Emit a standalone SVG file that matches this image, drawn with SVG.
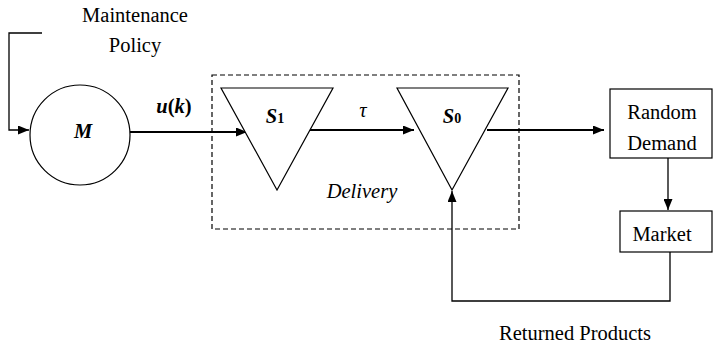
<svg xmlns="http://www.w3.org/2000/svg" width="713" height="349" viewBox="0 0 713 349">
<defs>
<marker id="ah" markerWidth="11" markerHeight="9" refX="11" refY="4.5" orient="auto" markerUnits="userSpaceOnUse">
<path d="M0,0 L11,4.5 L0,9 Z" fill="#000"/>
</marker>
</defs>
<style>
text{font-family:"Liberation Serif","Times New Roman",serif;font-size:20.5px;fill:#000}
.bi{font-weight:bold;font-style:italic}
.it{font-style:italic}
.shape{fill:#fff;stroke:#000;stroke-width:1.2}
.conn{fill:none;stroke:#000;stroke-width:2}
.thin{fill:none;stroke:#000;stroke-width:1.3}
</style>
<rect width="713" height="349" fill="#fff"/>
<g id="delivery">
<rect x="212" y="75" width="307" height="154" fill="none" stroke="#000" stroke-width="1.2" stroke-dasharray="5,3"/>
<text class="it" x="362" y="198" text-anchor="middle">Delivery</text>
</g>
<g id="connectors">
<polyline class="thin" points="42,33 9,33 9,130 29,130" marker-end="url(#ah)"/>
<line class="conn" x1="130" y1="132" x2="247" y2="132" marker-end="url(#ah)"/>
<line class="conn" x1="310" y1="130" x2="414" y2="130" marker-end="url(#ah)"/>
<line class="conn" x1="487" y1="130" x2="604" y2="130" marker-end="url(#ah)"/>
<line class="thin" x1="668" y1="158" x2="668" y2="210" marker-end="url(#ah)"/>
<polyline class="thin" points="670,252 670,301 452,301 452,191" marker-end="url(#ah)"/>
</g>
<g id="policy">
<text x="135" y="22" text-anchor="middle">Maintenance</text>
<text x="135" y="52" text-anchor="middle">Policy</text>
</g>
<g id="M">
<circle class="shape" cx="80" cy="135" r="50"/>
<text class="bi" x="83" y="138" text-anchor="middle">M</text>
</g>
<g id="uk">
<text class="bi" x="174" y="113" text-anchor="middle">u<tspan font-style="normal">(</tspan>k<tspan font-style="normal">)</tspan></text>
</g>
<g id="S1">
<polygon class="shape" points="221,88 333,88 277,190"/>
<text class="bi" x="275" y="123" text-anchor="middle">S<tspan font-style="normal" style="font-size:14px">1</tspan></text>
</g>
<g id="tau">
<text class="it" x="363" y="117" text-anchor="middle">τ</text>
</g>
<g id="S0">
<polygon class="shape" points="397,88 508,88 452,190"/>
<text class="bi" x="452" y="123" text-anchor="middle">S<tspan font-style="normal" style="font-size:14px">0</tspan></text>
</g>
<g id="random-demand">
<rect class="shape" x="610" y="89" width="102" height="69"/>
<text x="662" y="119" text-anchor="middle">Random</text>
<text x="662" y="150" text-anchor="middle">Demand</text>
</g>
<g id="market">
<rect class="shape" x="620" y="211" width="92" height="41"/>
<text x="662" y="241" text-anchor="middle">Market</text>
</g>
<g id="returned">
<text x="575" y="340" text-anchor="middle">Returned Products</text>
</g>
</svg>
